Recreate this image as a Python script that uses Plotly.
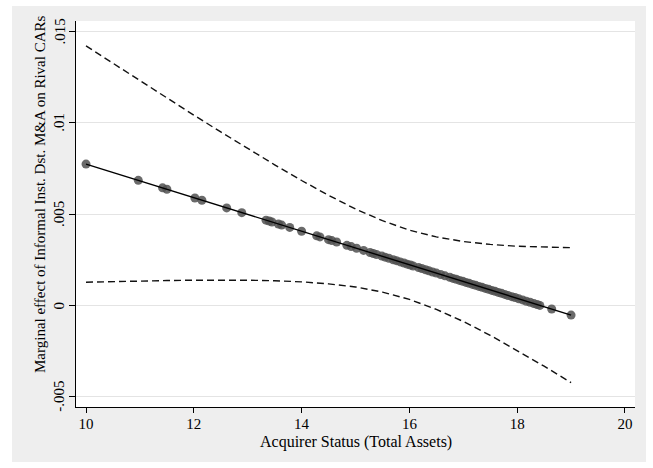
import plotly.graph_objects as go

# ---- data ----
ci_x = [10.0, 10.5, 11.0, 11.5, 12.0, 12.5, 13.0, 13.5, 14.0, 14.5,
        15.0, 15.5, 16.0, 16.5, 17.0, 17.5, 18.0, 18.5, 19.0]
ci_upper = [0.01421, 0.01325, 0.01230, 0.01136, 0.01042, 0.00950, 0.00859, 0.00770,
            0.00684, 0.00603, 0.00528, 0.00464, 0.00412, 0.00375, 0.00350, 0.00334,
            0.00324, 0.00319, 0.00316]
ci_lower = [0.00127, 0.00131, 0.00134, 0.00136, 0.00138, 0.00139, 0.00138, 0.00135,
            0.00129, 0.00118, 0.00101, 0.00073, 0.00033, -0.00022, -0.00088, -0.00164,
            -0.00247, -0.00333, -0.00423]

pt_x = [10.00, 10.97, 11.42, 11.50, 12.02, 12.15, 12.61, 12.89, 13.34, 13.40,
        13.45, 13.57, 13.63, 13.78, 14.00, 14.28, 14.34, 14.50, 14.56, 14.65,
        14.84, 14.92, 15.02, 15.15, 15.27, 15.33, 15.39, 15.49, 15.55, 15.62,
        15.70, 15.76, 15.83, 15.90, 15.96, 16.02, 16.07, 16.17, 16.23, 16.30,
        16.36, 16.43, 16.50, 16.58, 16.66, 16.75, 16.81, 16.87, 16.93, 16.99,
        17.05, 17.11, 17.17, 17.23, 17.29, 17.35, 17.41, 17.47, 17.53, 17.59,
        17.65, 17.71, 17.77, 17.83, 17.90, 17.96, 18.03, 18.10, 18.17, 18.24,
        18.31, 18.37, 18.42, 18.64, 19.00]
pt_y = [0.00774, 0.00685, 0.00644, 0.00636, 0.00588, 0.00576, 0.00534, 0.00508, 0.00467, 0.00462,
        0.00457, 0.00446, 0.00440, 0.00427, 0.00406, 0.00381, 0.00375, 0.00360, 0.00355, 0.00347,
        0.00329, 0.00322, 0.00313, 0.00301, 0.00290, 0.00284, 0.00279, 0.00270, 0.00264, 0.00258,
        0.00250, 0.00245, 0.00238, 0.00232, 0.00226, 0.00221, 0.00216, 0.00207, 0.00202, 0.00195,
        0.00190, 0.00183, 0.00177, 0.00169, 0.00162, 0.00154, 0.00148, 0.00143, 0.00137, 0.00132,
        0.00126, 0.00121, 0.00115, 0.00110, 0.00104, 0.00099, 0.00093, 0.00088, 0.00082, 0.00077,
        0.00071, 0.00066, 0.00060, 0.00054, 0.00048, 0.00043, 0.00036, 0.00030, 0.00023, 0.00017,
        0.00010, 0.00005, 0.00000, -0.00020, -0.00053]

x_ticks = [10, 12, 14, 16, 18, 20]
y_ticks = [-0.005, 0, 0.005, 0.01, 0.015]
y_ticktext = ["-.005", "0", ".005", ".01", ".015"]

x_title = "Acquirer Status (Total Assets)"
y_title = "Marginal effect of Informal Inst. Dst. M&A on Rival CARs"

FONT = "Liberation Serif, Times New Roman, serif"

fig = go.Figure()
dash = "7px,4px"
fig.add_trace(go.Scatter(x=ci_x, y=ci_upper, mode="lines",
                         line=dict(color="#111111", width=1.4, dash=dash), showlegend=False))
fig.add_trace(go.Scatter(x=ci_x, y=ci_lower, mode="lines",
                         line=dict(color="#111111", width=1.4, dash=dash), showlegend=False))
fig.add_trace(go.Scatter(x=pt_x, y=pt_y, mode="markers",
                         marker=dict(size=9, color="rgba(80,80,80,0.85)", line=dict(width=0)),
                         showlegend=False))
fig.add_trace(go.Scatter(x=pt_x, y=pt_y, mode="lines",
                         line=dict(color="#000000", width=1.4), showlegend=False))

L, R, T, B = 76, 18, 21, 61
W, H = 653, 468
pw, ph = W - L - R, H - T - B

def px_x(p):
    return (p - L) / pw

def px_y(p):
    return (H - B - p) / ph

annotations = [
    dict(text=x_title, xref="paper", yref="paper", x=0.5, y=px_y(442),
         xanchor="center", yanchor="middle", showarrow=False,
         font=dict(family=FONT, size=16, color="#000000")),
    dict(text=y_title, xref="paper", yref="paper", x=px_x(40), y=px_y(195),
         xanchor="center", yanchor="middle", textangle=-90, showarrow=False,
         font=dict(family=FONT, size=15, color="#000000")),
]
for v, t in zip(y_ticks, y_ticktext):
    annotations.append(dict(text=t, xref="paper", yref="y", x=px_x(59), y=v,
                            xanchor="center", yanchor="middle", textangle=-90,
                            showarrow=False,
                            font=dict(family=FONT, size=15, color="#000000")))

fig.update_layout(
    width=W, height=H, autosize=False,
    margin=dict(l=L, r=R, t=T, b=B, pad=0),
    paper_bgcolor="white", plot_bgcolor="white",
    font=dict(family=FONT, size=15, color="#000000"),
    shapes=[
        dict(type="rect", xref="paper", yref="paper", layer="below",
             x0=px_x(12), x1=px_x(646), y0=px_y(462), y1=px_y(6),
             fillcolor="#eeeeee", line=dict(width=0)),
        dict(type="rect", xref="paper", yref="paper", layer="below",
             x0=0, x1=1, y0=0, y1=1, fillcolor="white", line=dict(width=0)),
    ],
    annotations=annotations,
)
fig.update_xaxes(range=[9.814, 20.186], tickvals=x_ticks, ticks="outside", ticklen=5,
                 tickcolor="#000000", tickwidth=1, showline=True, linecolor="#000000",
                 linewidth=1, showgrid=False, zeroline=False, ticklabelstandoff=-2,
                 tickfont=dict(family=FONT, size=15, color="#000000"))
fig.update_yaxes(range=[-0.005564, 0.015575], tickvals=y_ticks, showticklabels=False,
                 ticks="outside", ticklen=6, tickcolor="#000000", tickwidth=1,
                 showline=True, linecolor="#000000", linewidth=1, showgrid=True,
                 gridcolor="#e4e4e4", gridwidth=1, zeroline=False)

fig.write_html("out.html", config={"displayModeBar": False},
               post_script="document.body.style.margin='0';document.body.style.padding='0';")
